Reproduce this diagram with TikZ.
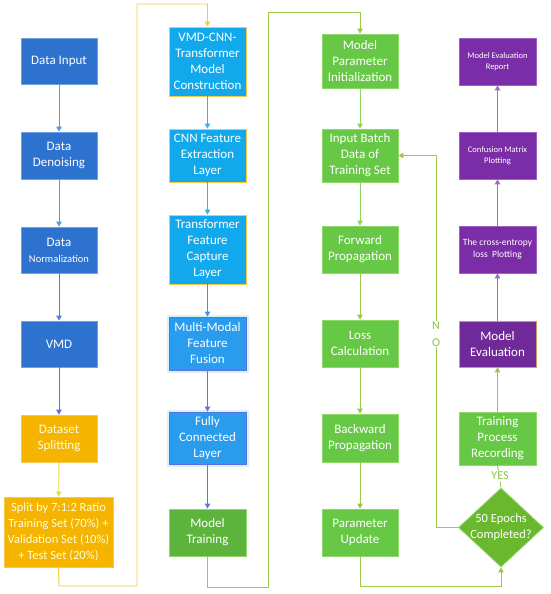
\documentclass[tikz,border=0pt]{standalone}
\usepackage{fontspec}
\setmainfont{Carlito}
\usetikzlibrary{arrows.meta,shapes.geometric}
\definecolor{dblue}{HTML}{2D72CE}
\definecolor{dblueb}{HTML}{6FA3E0}
\definecolor{lblue}{HTML}{12A9EC}
\definecolor{mblue}{HTML}{2A9CEE}
\definecolor{orng}{HTML}{F4B400}
\definecolor{orngb}{HTML}{F7C84A}
\definecolor{grn}{HTML}{66C844}
\definecolor{grnb}{HTML}{8ED86A}
\definecolor{dgrn}{HTML}{6AB82E}
\definecolor{prp}{HTML}{7A2DA6}
\definecolor{prpb}{HTML}{9C62C8}
\definecolor{arblue}{HTML}{4E9BE8}
\definecolor{arpb}{HTML}{5F6FE2}
\definecolor{arlb}{HTML}{33B2EE}
\definecolor{arylw}{HTML}{E2DA4A}
\definecolor{loopy}{HTML}{F6C93C}
\definecolor{argrn}{HTML}{8DD463}
\definecolor{argrn2}{HTML}{9BC84E}
\definecolor{arprp}{HTML}{A068CC}
\definecolor{txtg}{HTML}{86C24A}
\begin{document}
\begin{tikzpicture}[x=1pt,y=-1pt,
  box/.style={rectangle, minimum width=77pt, inner sep=1pt, align=center,
    text=white, font=\fontsize{13}{16}\selectfont, line width=0.8pt},
  bA/.style={box, fill=dblue, draw=dblueb},
  bY/.style={box, fill=orng, draw=orngb, text=white!85!yellow},
  bL/.style={box, fill=lblue, draw=orngb},
  bM/.style={box, fill=mblue, draw=arpb, preaction={draw=cyan!15, line width=5pt}},
  bG/.style={box, fill=grn, draw=grnb},
  bP/.style={box, fill=prp, draw=prpb},
  arr/.style={-{Triangle[width=5.5pt,length=5pt]}, line width=0.9pt},
  lnk/.style={line width=0.9pt},
  lab/.style={text=txtg, font=\fontsize{12}{17}\selectfont, fill=white, inner sep=1pt, align=center}
]
\fill[white] (0,0) rectangle (550,594);
\useasboundingbox (0,0) rectangle (550,594);

% column 1
\node[bA, minimum width=76pt, minimum height=46pt] (di) at (59,61) {Data Input};
\node[bA, minimum width=76pt, minimum height=47pt] (dd) at (59,155.5) {Data\\Denoising};
\node[bA, minimum width=76pt, minimum height=46pt] (dn) at (59,250) {Data\\{\fontsize{10.5}{16}\selectfont Normalization}};
\node[bA, minimum width=76pt, minimum height=46pt] (vmd) at (59,344) {VMD};
\node[bY, minimum width=76pt, minimum height=47pt] (ds) at (59,438.5) {Dataset\\Splitting};
\node[bY, minimum width=109pt, minimum height=70pt, font=\fontsize{12.5}{16}\selectfont] (sp) at (58.5,532) {Split by 7:1:2 Ratio\\Training Set (70\%) +\\Validation Set (10\%)\\+ Test Set (20\%)};

% column 2
\node[bL, minimum height=69pt] (vc) at (207.5,61.5) {VMD-CNN-\\Transformer\\Model\\Construction};
\node[bL, minimum height=53pt] (cnn) at (207.5,155.5) {CNN Feature\\Extraction\\Layer};
\node[bL, minimum height=69pt] (tf) at (207.5,249.5) {Transformer\\Feature\\Capture\\Layer};
\node[bM, minimum height=53pt] (mm) at (207.5,343.5) {Multi-Modal\\Feature\\Fusion};
\node[bM, minimum height=52pt] (fc) at (207.5,438) {Fully\\Connected\\Layer};
\node[bG, fill=grn!90!black, minimum height=47pt] (mt) at (207.5,532.5) {Model\\Training};

% column 3
\node[bG, minimum width=76pt, minimum height=54pt] (mp) at (360,61) {Model\\Parameter\\Initialization};
\node[bG, minimum width=76pt, minimum height=53pt] (ib) at (360,155.5) {Input Batch\\Data of\\Training Set};
\node[bG, minimum width=76pt, minimum height=47pt] (fp) at (360,249.5) {Forward\\Propagation};
\node[bG, minimum width=76pt, minimum height=47pt] (lc) at (360,343.5) {Loss\\Calculation};
\node[bG, minimum width=76pt, minimum height=48pt] (bp) at (360,438) {Backward\\Propagation};
\node[bG, minimum width=76pt, minimum height=47pt] (pu) at (360,532.5) {Parameter\\Update};

% column 4
\node[bP, minimum height=47pt, font=\fontsize{8.5}{11}\selectfont] (rep) at (497.5,61.5) {Model Evaluation\\Report};
\node[bP, minimum height=47pt, font=\fontsize{8.5}{11}\selectfont] (cm) at (497.5,155.5) {Confusion Matrix\\Plotting};
\node[bP, minimum height=47pt, font=\fontsize{9.5}{12}\selectfont] (ce) at (497.5,249.5) {The cross-entropy\\loss~ Plotting};
\node[bP, fill=prp!92!black, draw=orngb!70!prp, minimum height=46pt] (me) at (497.5,344) {Model\\Evaluation};
\node[bG, minimum height=53pt] (tp) at (497.5,438.5) {Training\\Process\\Recording};
\node[diamond, fill=dgrn, draw=grnb, line width=0.8pt, minimum width=85pt, minimum height=79pt, inner sep=0pt] (dec) at (501,527.5) {};
\node[text=white, align=center, font=\fontsize{12.5}{16}\selectfont] (dect) at (dec.center) {50 Epochs\\Completed?};

% column 1 arrows
\draw[arr, arblue] (di) -- (dd);
\draw[arr, arblue] (dd) -- (dn);
\draw[arr, arpb!70!arblue] (dn) -- (vmd);
\draw[arr, arpb] (vmd) -- (ds);
\draw[arr, arylw] (ds) -- (sp);
\coordinate (ya) at (59,586);
\coordinate (yb) at (137,586);
\coordinate (yc) at (137,4);
\coordinate (yd) at (207.5,4);
\draw[arr, loopy] (sp.south) -- (ya) -- (yb) -- (yc) -- (yd) -- (vc.north);

% column 2 arrows
\draw[arr, arlb] (vc) -- (cnn);
\draw[arr, arlb] (cnn) -- (tf);
\draw[arr, arpb!60!arlb] (tf) -- (mm);
\draw[arr, arpb!80!arlb] (mm) -- (fc);
\draw[arr, arpb!80!arlb] (fc) -- (mt);
\coordinate (ga) at (207.5,587);
\coordinate (gb) at (268.7,587);
\coordinate (gc) at (268.7,12);
\coordinate (gd) at (360,12);
\draw[arr, argrn2] (mt.south) -- (ga) -- (gb) -- (gc) -- (gd) -- (mp.north);

% column 3 arrows
\draw[arr, argrn] (mp) -- (ib);
\draw[arr, argrn] (ib) -- (fp);
\draw[arr, argrn2] (fp) -- (lc);
\draw[arr, argrn2] (lc) -- (bp);
\draw[arr, argrn2] (bp) -- (pu);
\coordinate (pa) at (360,586);
\coordinate (pb) at (501,586);
\draw[arr, argrn2] (pu.south) -- (pa) -- (pb) -- (dec.south);

% loop back (NO)
\coordinate (na) at (436,527.5);
\coordinate (nb) at (436,155.5);
\draw[arr, argrn2] (dec.west) -- (na) -- (nb) -- (ib.east);
\node[lab] (no) at (436,334) {N\\O};

% YES
\draw[lnk, argrn2] (dec.north) -- (tp.south);
\node[lab, font=\fontsize{12}{14}\selectfont] (yes) at (500,476) {YES};

% column 4 arrows
\draw[arr, argrn2] (tp) -- (me);
\draw[arr, arprp] (me) -- (ce);
\draw[arr, arprp] (ce) -- (cm);
\draw[arr, arprp] (cm) -- (rep);
\end{tikzpicture}
\end{document}
